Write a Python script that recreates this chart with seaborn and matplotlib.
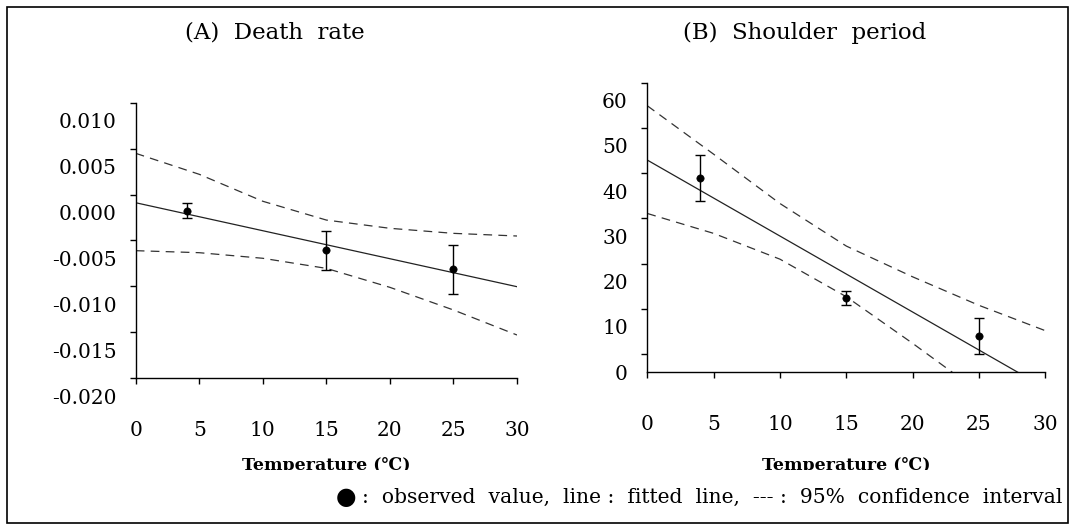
"""Death rate and shoulder period vs temperature, fitted lines with 95% CI."""

import matplotlib
matplotlib.use('Agg')
import matplotlib.pyplot as plt
import matplotlib.transforms as mtransforms
from matplotlib.patches import Rectangle
import seaborn as sns

# observed values (mean +- error)
temp = [4, 15, 25]
death_obs = [-0.00175, -0.00607, -0.00814]
death_err = [0.0008, 0.0021, 0.0027]
shoulder_obs = [39.0, 12.45, 3.98]
shoulder_err = [5.1, 1.6, 4.0]

# fitted lines
fit_x = [0, 30]
death_fit = [-0.00088, -0.01004]
shoulder_fit = [42.9, -7.47]

# 95% confidence bands
ci_x = [0, 5, 10, 15, 20, 25, 30]
death_upper = [0.00451, 0.00222, -0.00072, -0.00277, -0.00367, -0.00422, -0.00451]
death_lower = [-0.00611, -0.00633, -0.00694, -0.00804, -0.01011, -0.01258, -0.01531]
shoulder_upper = [54.9, 44.2, 33.3, 23.9, 17.1, 10.8, 5.2]
ci_x_low = [0, 5, 10, 15, 20, 25]
shoulder_lower = [31.1, 26.7, 21.0, 12.7, 2.4, -8.3]

x_ticks = [0, 5, 10, 15, 20, 25, 30]
death_ticks = [0.010, 0.005, 0.000, -0.005, -0.010, -0.015, -0.020]
death_labels = ['0.010', '0.005', '0.000', '-0.005', '-0.010', '-0.015', '-0.020']
shoulder_ticks = [0, 10, 20, 30, 40, 50, 60]

TITLES = ['(A)  Death  rate', '(B)  Shoulder  period']
XLABEL = 'Temperature (\u2103)'
NOTE = ':  observed  value,  line :  fitted  line,  --- :  95%  confidence  interval'

W, H = 1085, 530

sns.set_theme(style='white')
plt.rcParams['font.family'] = ['DejaVu Serif', 'DejaVu Sans']
plt.rcParams.update({
    'axes.linewidth': 1.0,
    'axes.edgecolor': 'black',
    'xtick.color': 'black',
    'ytick.color': 'black',
    'text.color': 'black',
})


def px(x0, y0, x1, y1):
    # pixel box (top-left origin) -> figure fraction rect
    return [x0 / W, 1 - y1 / H, (x1 - x0) / W, (y1 - y0) / H]


def draw_panel(ax, obs, err, fit, upper, lower, lower_x):
    dash = (0, (7, 5))
    sns.lineplot(x=ci_x, y=upper, ax=ax, color='#333333', lw=0.9, linestyle=dash)
    sns.lineplot(x=lower_x, y=lower, ax=ax, color='#333333', lw=0.9, linestyle=dash)
    sns.lineplot(x=fit_x, y=fit, ax=ax, color='#222222', lw=0.9)
    ax.errorbar(temp, obs, yerr=err, fmt='none', ecolor='black', elinewidth=1.0,
                capsize=3.5, capthick=1.0)
    sns.scatterplot(x=temp, y=obs, ax=ax, color='black', s=28, edgecolor='black',
                    zorder=5)
    sns.despine(ax=ax)
    ax.set_xlim(0, 30)
    ax.set_xticks(x_ticks)
    ax.set_xlabel('')
    ax.set_ylabel('')
    ax.tick_params(axis='both', direction='out', length=4, width=1.0,
                   labelsize=14.5, left=True, bottom=True)
    ax.tick_params(axis='x', pad=27)
    ax.tick_params(axis='y', pad=10)


fig = plt.figure(figsize=(W / 100, H / 100), dpi=100)

ax_a = fig.add_axes(px(135.7, 103, 517, 378))
draw_panel(ax_a, death_obs, death_err, death_fit, death_upper, death_lower, ci_x)
ax_a.set_ylim(-0.020, 0.010)
ax_a.set_yticks(death_ticks)
ax_a.set_yticklabels(death_labels)

ax_b = fig.add_axes(px(647.3, 82.7, 1045.3, 372.3))
draw_panel(ax_b, shoulder_obs, shoulder_err, shoulder_fit, shoulder_upper,
           shoulder_lower, ci_x_low)
ax_b.set_ylim(-4, 60)
ax_b.set_yticks(shoulder_ticks)
ax_b.set_yticklabels([str(t) for t in shoulder_ticks])

# y labels in the original sit a little below their ticks
shift = mtransforms.ScaledTranslation(0, -18 / 100, fig.dpi_scale_trans)
for ax in (ax_a, ax_b):
    for lab in ax.get_yticklabels():
        lab.set_transform(lab.get_transform() + shift)

fig.text(275 / W, 1 - 33 / H, TITLES[0], ha='center', va='center', fontsize=16.5)
fig.text(805 / W, 1 - 33 / H, TITLES[1], ha='center', va='center', fontsize=16.5)

# x axis titles are cut off at the bottom in the original
clip = mtransforms.TransformedBbox(
    mtransforms.Bbox([[0, 1 - 470 / H], [1, 1]]), fig.transFigure)
for cx in (326, 846):
    t = fig.text(cx / W, 1 - 470 / H, XLABEL, ha='center', va='baseline',
                 fontsize=12.5, fontweight='bold')
    t.set_clip_box(clip)
    t.set_clip_on(True)

fig.text(346 / W, 1 - 497 / H, '\u25cf', ha='center', va='center', fontsize=17,
         family='DejaVu Sans')
fig.text(362 / W, 1 - 497 / H, NOTE, ha='left', va='center', fontsize=14.6)

fig.add_artist(Rectangle((7 / W, 1 - 523 / H), (1068 - 7) / W, (523 - 7) / H,
                         transform=fig.transFigure, fill=False, lw=1.2,
                         edgecolor='black'))

fig.savefig('out.png', dpi=100)
